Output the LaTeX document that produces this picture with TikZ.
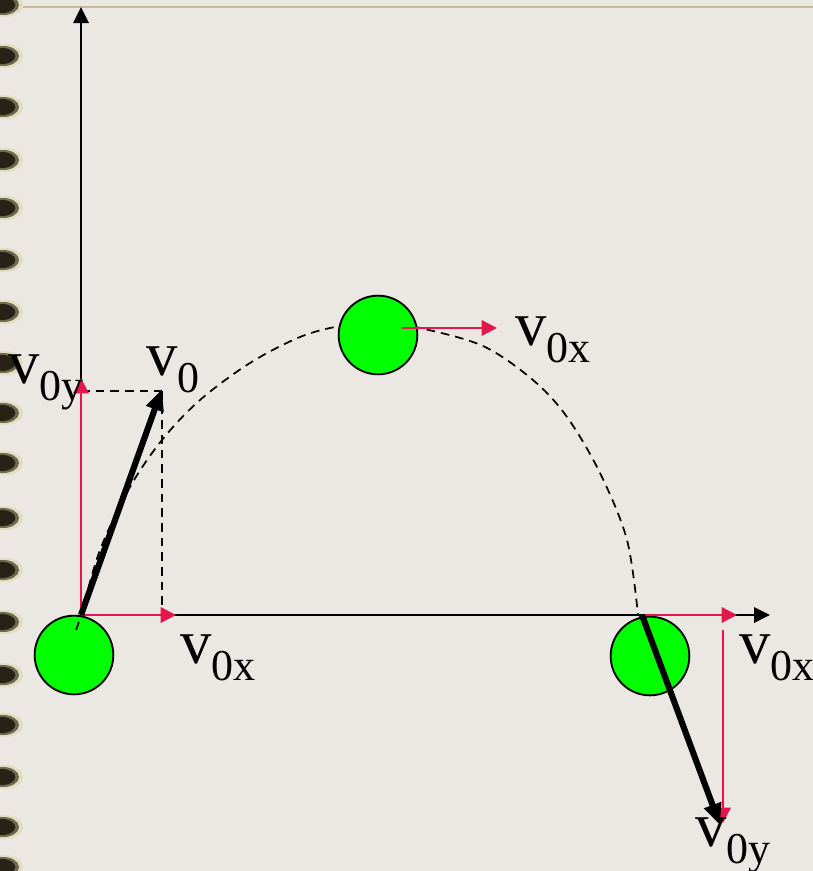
\documentclass[tikz,border=0pt]{standalone}
\usepackage{fontspec}
\setmainfont{Liberation Serif}
\usetikzlibrary{arrows.meta}
\definecolor{bg}{RGB}{235,231,227}
\definecolor{vred}{RGB}{228,22,76}
\definecolor{ballgreen}{RGB}{0,255,0}
\definecolor{ringdark}{RGB}{40,34,22}
\definecolor{ringmid}{RGB}{110,104,80}
\definecolor{ringhalo}{RGB}{225,222,192}
\definecolor{topline}{RGB}{200,186,140}
\newcommand{\vsub}[1]{{\fontsize{47}{47}\selectfont v}\raisebox{-12.75pt}{\fontsize{33}{33}\selectfont #1}}
\begin{document}
\begin{tikzpicture}[x=0.75pt,y=-0.75pt,
 redarrow/.style={draw=vred, line width=1.8pt, -{Triangle[length=11.5pt,width=11.5pt]}},
 axis/.style={draw=black, line width=1.8pt, -{Triangle[length=12pt,width=11.5pt]}},
 velarrow/.style={draw=black, line width=4.6pt, -{Triangle[length=16pt,width=13pt]}},
 guide/.style={draw=black, line width=1.3pt, dash pattern=on 6.5pt off 4.5pt},
 ballnode/.style={circle, fill=ballgreen, draw=black, line width=1.4pt, minimum size=59pt, inner sep=0pt},
 lab/.style={anchor=base west, inner sep=0pt, text=black}
]
% background
\fill[bg] (0,0) rectangle (813,871);
\useasboundingbox (0,0) rectangle (813,871);
% top rule
\draw[topline, line width=0.8pt] (23,7) -- (813,7);
% binding
\foreach \yy in {5,56,107,160,208,260,312,363,413,463,518,570,622,675,725,777,827,867}{
  \fill[ringhalo] (5,\yy) ellipse [x radius=13.5pt, y radius=9pt];
  \fill[ringmid] (3,\yy) ellipse [x radius=12pt, y radius=7.5pt];
  \fill[ringdark] (2,\yy) ellipse [x radius=10pt, y radius=6pt];
}
% coordinates
\coordinate (O) at (81,615);
\coordinate (ytop) at (81,7);
\coordinate (xend) at (770,615);
\coordinate (v0ytip) at (81,378);
\coordinate (v0xtip) at (176,615);
\coordinate (v0tip) at (162,389);
\coordinate (yproj) at (81,391);
\coordinate (corner) at (162,391);
\coordinate (xproj) at (162,625);
\coordinate (topstart) at (402,328);
\coordinate (toptip) at (497,328);
\coordinate (land) at (642,615);
\coordinate (landred) at (645,615);
\coordinate (landxtip) at (737,615);
\coordinate (downstart) at (723,630);
\coordinate (downtip) at (723,823);
\coordinate (finaltip) at (720,825);
% axes
\draw[axis] (O) -- (ytop);
\draw[axis] (O) -- (xend);
% balls and trajectory
\node[ballnode] (ball1) at (74,655) {};
\draw[guide] plot[smooth, tension=0.55] coordinates {(76,630) (81,615) (100,550) (130,487) (162,440) (200,400) (250,363) (300,337) (340,326) (380,322) (420,328) (483,346) (533,380) (567,417) (600,473) (627,540) (638,615)};
\node[ballnode] (ball2) at (378,335) {};
\node[ballnode] (ball3) at (650,656) {};
% component guides
\draw[guide] (yproj) -- (corner);
\draw[guide] (corner) -- (xproj);
% red components
\draw[redarrow] (O) -- (v0ytip);
\draw[redarrow] (O) -- (v0xtip);
\draw[redarrow] (topstart) -- (toptip);
\draw[redarrow] (landred) -- (landxtip);
\draw[redarrow] (downstart) -- (downtip);
% velocity vectors
\draw[velarrow] (O) -- (v0tip);
\draw[velarrow] (land) -- (finaltip);
% labels
\node[lab] (l1) at (8,383) {\vsub{0y}};
\node[lab] (l2) at (146,375) {\vsub{0}};
\node[lab] (l3) at (180,663) {\vsub{0x}};
\node[lab] (l4) at (515,345) {\vsub{0x}};
\node[lab] (l5) at (739,663) {\vsub{0x}};
\node[lab] (l6) at (695,846) {\vsub{0y}};
\end{tikzpicture}
\end{document}
